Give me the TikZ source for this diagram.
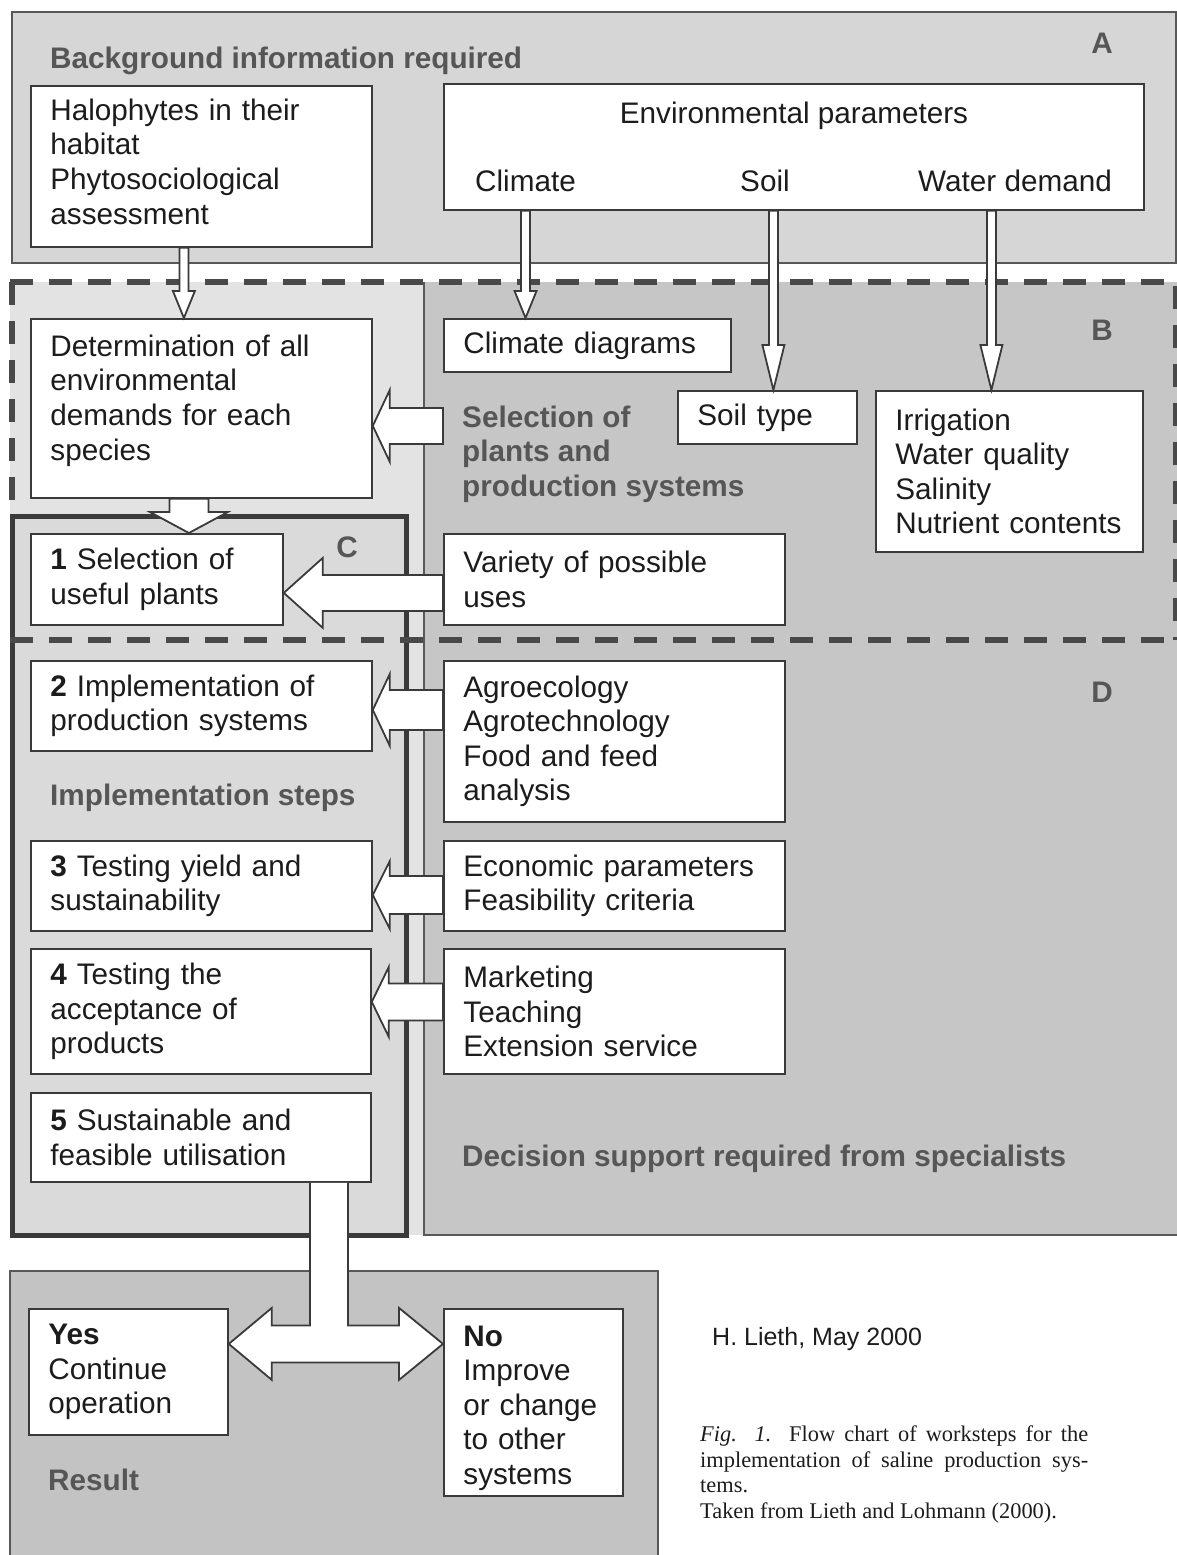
\documentclass[tikz,border=0pt]{standalone}
\usepackage{fontspec}
\setmainfont{Liberation Sans}
\newfontfamily\capfont{Liberation Serif}
\usetikzlibrary{calc}

\definecolor{regA}{HTML}{D6D6D6}
\definecolor{regL}{HTML}{E3E3E3}
\definecolor{regC}{HTML}{DADADA}
\definecolor{regD}{HTML}{C6C6C6}
\definecolor{regR}{HTML}{C3C3C3}
\definecolor{edge}{HTML}{3A3A3A}
\definecolor{ink}{HTML}{1C1C1C}
\definecolor{tagc}{HTML}{565656}

\newcommand{\boxfont}{\fontsize{29.7pt}{34.6pt}\selectfont}

% hollow block arrows: #1 source, #2 tip, #3 shaft half, #4 head half, #5 head length
\newcommand{\blockdown}[5]{%
  \draw[blockarrow] let \p1=(#1), \p2=(#2) in
    (\x2-#3,\y1) -- (\x2-#3,\y2+#5) -- (\x2-#4,\y2+#5) -- (\p2) -- (\x2+#4,\y2+#5) -- (\x2+#3,\y2+#5) -- (\x2+#3,\y1) -- cycle;}
\newcommand{\blockleft}[5]{%
  \draw[blockarrow] let \p1=(#1), \p2=(#2) in
    (\x1,\y2+#3) -- (\x2+#5,\y2+#3) -- (\x2+#5,\y2+#4) -- (\p2) -- (\x2+#5,\y2-#4) -- (\x2+#5,\y2-#3) -- (\x1,\y2-#3) -- cycle;}

\begin{document}
\begin{tikzpicture}[x=1pt, y=-1pt,
    box/.style={draw=edge, fill=white, line width=1.8pt, anchor=north west, inner xsep=19.5pt, inner ysep=0pt, align=left, text=ink, font=\boxfont},
    word/.style={inner sep=0pt, text=ink, font=\boxfont},
    tag/.style={inner sep=0pt, text=tagc, font=\boxfont\bfseries, anchor=base west},
    blockarrow/.style={draw=edge, fill=white, line width=1.8pt, line join=miter},
    dashline/.style={draw=tagc!85!black, line width=5.5pt, dash pattern=on 23pt off 16pt},
    region/.style={draw=edge!85, line width=1.8pt}]
\useasboundingbox (0,0) rectangle (1177,1555);

% regions
\filldraw[region, fill=regA] (12,12) rectangle (1176,263);
\fill[regL] (10,282) rectangle (424,1235);
\fill[regD] (424,282) rectangle (1177,1235);
\draw[region] (424,282) -- (424,1235) -- (1177,1235);
\filldraw[fill=regC, draw=edge, line width=5pt] (12,516) rectangle (406,1235);
\fill[regR] (10,1271) rectangle (658,1555);
\draw[region] (10,1555) -- (10,1271) -- (658,1271) -- (658,1555);
\draw[dashline] (10,282) -- (1176,282) -- (1176,640);
\draw[dashline] (10,640) -- (1176,640);
\draw[dashline] (12,282) -- (12,508);

% labels
\node[tag] (lbg) at (50,68) {Background information required};
\node[tag, anchor=base] (la) at (1102,53) {A};
\node[tag, anchor=base] (lb) at (1102,340) {B};
\node[tag, anchor=base] (lc) at (347,557) {C};
\node[tag, anchor=base] (ld) at (1102,702) {D};
\node[tag, anchor=north west, inner xsep=19pt, align=left] (selp) at (443,405.5) {Selection of\\plants and\\production systems};
\node[tag] (limpl) at (50,805) {Implementation steps};
\node[tag] (ldec) at (462,1166) {Decision support required from specialists};
\node[tag] (lres) at (48,1490) {Result};

% boxes
\node[box, text width=302pt, minimum height=161pt] (hal) at (30,85) {Halophytes in their\\habitat\\Phytosociological\\assessment\rule[-10pt]{0pt}{10pt}};
\node[box, minimum width=700pt, minimum height=126pt] (env) at (443,83) {};
\node[word, anchor=base] (envt) at (794,123) {Environmental parameters};
\node[word, anchor=base west] (clim) at (475,191) {Climate};
\node[word, anchor=base west] (soil) at (740,191) {Soil};
\node[word, anchor=base west] (water) at (918,191) {Water demand};
\node[box, text width=302pt, minimum height=179pt] (det) at (30,318) {Determination of all\\environmental\\demands for each\\species\rule[-22pt]{0pt}{22pt}};
\node[box, text width=248pt, minimum height=53pt] (climd) at (443,318) {Climate diagrams};
\node[box, text width=140pt, minimum height=53pt] (soilt) at (677,390) {Soil type};
\node[box, text width=228pt, minimum height=161pt] (irr) at (875,390) {Irrigation\\Water quality\\Salinity\\Nutrient contents};
\node[box, text width=213pt, minimum height=91pt] (s1) at (30,533) {\textbf{1} Selection of\\useful plants};
\node[box, text width=302pt, minimum height=91pt] (var) at (443,533) {Variety of possible\\uses};
\node[box, text width=302pt, minimum height=90pt] (s2) at (30,660) {\textbf{2} Implementation of\\production systems};
\node[box, text width=302pt, minimum height=161pt] (agro) at (443,660) {Agroecology\\Agrotechnology\\Food and feed\\analysis};
\node[box, text width=302pt, minimum height=90pt] (s3) at (30,840) {\textbf{3} Testing yield and\\sustainability};
\node[box, text width=302pt, minimum height=90pt] (econ) at (443,840) {Economic parameters\\Feasibility criteria};
\node[box, text width=301pt, minimum height=125pt] (s4) at (30,948) {\textbf{4} Testing the\\acceptance of\\products};
\node[box, text width=302pt, minimum height=125pt] (mark) at (443,948) {Marketing\\Teaching\\Extension service};
\node[box, text width=301pt, minimum height=89pt] (s5) at (30,1092) {\textbf{5} Sustainable and\\feasible utilisation};
\node[box, text width=160pt, minimum height=126pt] (yes) at (28,1308) {\textbf{Yes}\\Continue\\operation};
\node[box, text width=140pt, minimum height=187pt] (no) at (443,1308) {\rule{0pt}{32pt}\textbf{No}\\Improve\\or change\\to other\\systems};

% arrows
\blockdown{hal.south}{$(det.north)+(-17.5,0)$}{4.5}{11}{27}
\blockdown{env.south}{clim.south |- climd.north}{4.5}{11}{27}
\blockdown{env.south}{$(soilt.north)+(6,0)$}{4.5}{11}{45}
\blockdown{env.south}{$(irr.north)+(-18,0)$}{4.5}{11}{45}
\blockdown{det.south}{$(s1.north)+(32,0)$}{19.5}{39}{21}
\blockleft{selp.west}{$(det.east)+(0,17.5)$}{18}{36}{17}
\blockleft{var.west}{$(s1.east)+(0,13.5)$}{18}{35}{39}
\blockleft{agro.west}{$(s2.east)+(0,4)$}{20}{36}{17}
\blockleft{econ.west}{$(s3.east)+(0,9)$}{19}{34}{17}
\blockleft{mark.west}{$(s4.east)+(0,-9.5)$}{18.5}{35}{17}
\draw[blockarrow] let \p1=($(s5.south)+(128,0)$), \p2=($(yes.east)+(0,-28)$), \p3=($(no.west)+(0,-58.5)$) in
  (\x1-19,\y1) -- (\x1-19,\y2+18.5) -- (\x2+43,\y2+18.5) -- (\x2+43,\y2+36) -- (\p2)
  -- (\x2+43,\y2-36) -- (\x2+43,\y2-18.5) -- (\x3-44,\y3-18.5) -- (\x3-44,\y3-36) -- (\p3)
  -- (\x3-44,\y3+36) -- (\x3-44,\y3+18.5) -- (\x1+19,\y3+18.5) -- (\x1+19,\y1);

% signature and caption
\node[anchor=base west, inner sep=0pt, text=ink, font={\fontsize{25pt}{30pt}\selectfont}] (sign) at (712,1345) {H. Lieth, May 2000};
\node[anchor=north west, inner sep=0pt, align=left, text=ink, font={\capfont\fontsize{22.4pt}{25.5pt}\selectfont}] (cap) at (700,1426)
  {\makebox[388pt][s]{\textit{Fig. 1.} Flow chart of worksteps for the}\\
   \makebox[388pt][s]{implementation of saline production sys-}\\
   tems.\\
   Taken from Lieth and Lohmann (2000).};
\end{tikzpicture}
\end{document}
